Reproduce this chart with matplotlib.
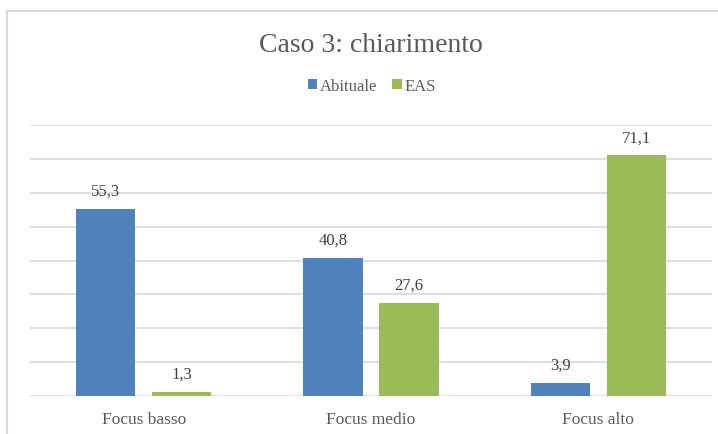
import matplotlib.pyplot as plt
import numpy as np
from matplotlib.patches import Rectangle

categories = ["Focus basso", "Focus medio", "Focus alto"]
abituale = [55.3, 40.8, 3.9]
eas = [1.3, 27.6, 71.1]
series_names = ["Abituale", "EAS"]

BLUE = "#4F81BD"
GREEN = "#9BBB59"
TEXT = "#595959"

plt.rcParams["font.family"] = ["Liberation Serif", "DejaVu Serif"]

fig = plt.figure(figsize=(7.18, 4.35), dpi=100)
ax = fig.add_axes([30 / 718, 38 / 435, 682 / 718, 271 / 435])

# chart frame (cropped on right and bottom)
fig.patches.append(Rectangle((7 / 718, -0.1), 1.2, (423 / 435) + 0.1,
                             transform=fig.transFigure, fill=False,
                             edgecolor="#D9D9D9", linewidth=1.5))

x = np.arange(len(categories))
w = 0.26
off = 0.167
b1 = ax.bar(x - off, abituale, w, color=BLUE, label=series_names[0], zorder=3)
b2 = ax.bar(x + off, eas, w, color=GREEN, label=series_names[1], zorder=3)

for bars, vals in ((b1, abituale), (b2, eas)):
    for r, v in zip(bars, vals):
        ax.annotate(f"{v:.1f}".replace(".", ","),
                    (r.get_x() + r.get_width() / 2, v),
                    xytext=(0, 7), textcoords="offset points",
                    ha="center", va="bottom", fontsize=12, color="#404040")

ax.set_xlim(-0.5, 2.5)
ax.set_ylim(0, 80)
ax.set_yticks(np.arange(0, 81, 10))
ax.yaxis.grid(True, color="#D9D9D9", linewidth=1.2, zorder=0)
ax.tick_params(axis="y", left=False, labelleft=False)
ax.tick_params(axis="x", bottom=False, labelsize=12.5, colors=TEXT, pad=7)
ax.set_xticks(x)
ax.set_xticklabels(categories)
for s in ax.spines.values():
    s.set_visible(False)

fig.text(371 / 718, 1 - 45 / 435, "Caso 3: chiarimento", ha="center",
         va="center", fontsize=20, color=TEXT)
fig.legend(handles=[b1, b2], loc="center", bbox_to_anchor=(372 / 718, 1 - 87 / 435),
           ncol=2, frameon=False, fontsize=12, labelcolor=TEXT,
           handlelength=0.55, handleheight=0.55, handletextpad=0.2,
           columnspacing=0.9)

fig.savefig("out.png", dpi=100)
